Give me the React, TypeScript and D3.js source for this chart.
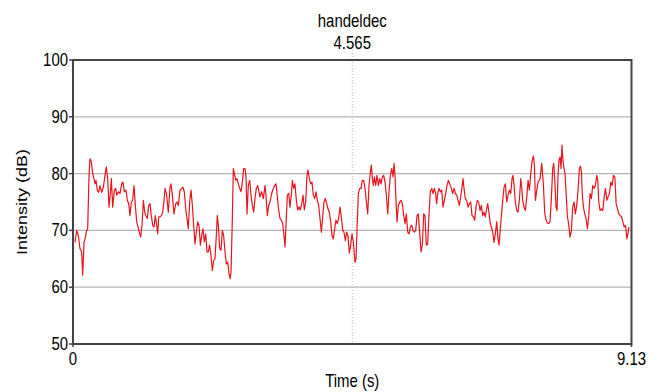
import React from "react";
import * as d3 from "d3";

const title = "handeldec";
const cursorTime = 4.565;
const xDomain = [0, 9.13];
const yDomain = [50, 100];
const yTicks = [50, 60, 70, 80, 90, 100];
const xTickLabels = ["0", "9.13"];
const xLabel = "Time (s)";
const yLabel = "Intensity (dB)";

const times = [
  0.033,0.060,0.087,0.114,0.142,0.158,0.180,0.196,0.223,0.240,0.262,0.278,0.300,0.322,0.343,0.360,0.376,0.398,0.420,0.441,0.469,0.496,0.523,0.545,0.567,0.589,0.610,0.627,0.649,0.676,0.698,0.714,0.741,0.768,0.796,0.817,0.839,0.866,0.888,0.910,0.932,0.953,0.975,0.997,1.019,1.041,1.063,1.084,1.106,1.128,1.150,1.172,1.193,1.215,1.237,1.259,1.280,1.303,1.324,1.346,1.368,1.385,1.401,1.422,1.444,1.466,1.488,
  1.504,1.531,1.558,1.586,1.602,1.624,1.651,1.679,1.700,1.722,1.749,1.777,1.798,1.820,1.842,1.864,1.885,1.907,1.929,1.951,1.973,1.994,2.016,2.038,2.060,2.082,2.104,2.125,2.147,2.169,2.191,2.212,2.234,2.256,2.278,2.300,2.321,2.343,2.359,2.376,2.398,2.420,2.441,2.463,2.485,2.507,2.529,2.550,2.567,2.583,2.605,2.621,2.638,2.660,2.681,2.703,2.725,2.747,2.768,2.790,2.812,2.828,2.845,2.866,2.888,2.910,2.932,2.954,2.975,2.997,3.019,3.041,
  3.057,3.085,3.111,3.139,3.155,3.177,3.199,3.221,3.248,3.275,3.297,3.319,3.340,3.362,3.384,3.406,3.428,3.449,3.466,3.482,3.504,3.526,3.548,3.569,3.586,3.608,3.629,3.651,3.673,3.695,3.716,3.739,3.760,3.782,3.804,3.825,3.842,3.864,3.886,3.907,3.929,3.951,3.973,3.994,4.016,4.038,4.060,4.082,4.103,4.125,4.147,4.169,4.190,4.213,4.234,4.255,4.278,4.299,4.321,4.343,4.365,4.386,4.409,4.430,4.452,4.474,4.495,4.517,4.539,4.561,4.582,
  4.610,4.627,4.643,4.665,4.687,4.709,4.730,4.752,4.774,4.796,4.818,4.839,4.861,4.877,4.894,4.910,4.927,4.948,4.970,4.992,5.014,5.035,5.057,5.079,5.101,5.122,5.145,5.166,5.188,5.210,5.232,5.248,5.264,5.281,5.297,5.319,5.341,5.362,5.384,5.406,5.428,5.449,5.472,5.493,5.515,5.537,5.558,5.580,5.602,5.624,5.645,5.667,5.689,5.711,5.733,5.754,5.776,5.798,5.820,5.841,5.864,5.885,5.907,5.929,5.945,5.962,5.983,6.005,6.027,6.049,6.070,6.093,6.114,6.136,6.158,
  6.184,6.207,6.229,6.250,6.272,6.294,6.315,6.338,6.359,6.376,6.392,6.413,6.436,6.458,6.479,6.501,6.523,6.545,6.567,6.588,6.610,6.632,6.654,6.675,6.698,6.719,6.741,6.763,6.779,6.796,6.817,6.839,6.861,6.883,6.904,6.927,6.948,6.965,6.981,7.003,7.025,7.046,7.068,7.090,7.112,7.134,7.156,7.177,7.193,7.210,7.231,7.254,7.275,7.297,7.320,7.336,7.352,7.373,7.395,7.418,7.439,7.461,7.483,7.504,7.526,7.543,7.559,7.582,7.603,
  7.636,7.662,7.689,7.711,7.733,7.754,7.777,7.798,7.820,7.842,7.858,7.875,7.896,7.913,7.929,7.945,7.962,7.978,7.994,8.011,8.027,8.043,8.060,8.081,8.104,8.125,8.147,8.169,8.191,8.212,8.235,8.256,8.278,8.295,8.311,8.327,8.344,8.366,8.387,8.409,8.432,8.453,8.474,8.497,8.519,8.540,8.562,8.579,8.595,8.617,8.638,8.661,8.683,8.704,8.726,8.748,8.769,8.792,8.814,8.835,8.858,8.879,8.901,8.923,8.945,8.966,8.989,9.010,9.032,9.055,9.071,9.087,
];

const intensity = [
  67.9,70.0,69.1,66.8,66.2,62.1,67.9,68.5,70.0,70.3,79.7,82.6,82.1,80.0,79.1,78.2,78.8,77.0,76.7,77.9,76.7,77.6,79.7,81.2,79.1,74.1,76.5,79.1,74.1,77.1,77.4,76.2,76.8,76.5,78.2,78.5,76.8,77.1,75.3,74.7,72.6,75.0,75.3,77.9,74.4,71.5,70.6,69.7,68.8,70.9,75.3,73.2,72.6,72.1,74.4,74.7,72.6,70.9,70.6,72.6,70.9,69.4,72.4,72.4,72.6,73.2,75.3,
  77.4,76.2,73.2,77.6,78.2,76.2,72.9,74.7,75.0,74.4,77.1,77.4,77.6,76.8,73.8,72.1,70.3,75.0,77.1,74.4,70.9,67.6,69.7,71.5,70.9,67.4,69.1,70.3,68.0,69.4,66.2,66.2,67.4,65.6,62.9,64.7,65.0,69.1,72.6,70.9,66.8,66.5,70.0,69.1,66.2,64.1,64.4,62.4,61.5,62.6,72.1,80.9,80.0,78.8,79.1,78.2,77.4,76.8,78.5,80.9,80.9,79.4,72.9,77.9,78.8,76.2,74.4,73.2,75.6,77.4,77.9,76.8,
  75.9,76.8,75.6,77.9,76.2,72.6,74.4,75.0,76.5,77.4,77.9,78.2,76.0,73.6,72.1,71.8,71.2,69.1,67.1,70.9,76.2,76.5,74.1,76.2,78.8,77.4,78.2,75.3,73.6,74.1,73.6,74.7,76.2,73.6,75.0,79.7,80.6,79.1,78.2,78.5,76.2,75.6,76.8,75.3,74.4,72.1,69.7,72.4,75.0,75.6,74.7,73.8,73.2,71.5,69.1,68.5,70.3,71.8,71.2,72.1,74.1,72.4,70.0,69.7,68.2,69.7,69.1,66.0,67.4,69.4,68.0,
  64.4,65.0,70.3,76.5,77.4,77.4,78.8,78.8,77.4,75.0,72.9,77.9,80.3,81.5,79.1,77.9,79.4,77.9,79.7,77.9,79.1,78.2,79.4,79.7,78.5,76.2,72.9,76.8,79.7,80.9,79.4,81.8,79.7,75.0,71.5,74.4,75.0,75.3,74.7,72.6,71.2,72.9,69.7,69.4,70.6,70.9,70.0,69.7,70.0,72.6,72.9,69.7,66.2,67.4,72.9,72.6,67.4,67.6,72.9,76.8,77.4,76.5,77.4,76.5,74.7,76.5,77.4,76.8,77.1,74.1,75.3,76.5,77.9,78.8,78.2,
  77.4,76.5,77.4,76.5,76.2,75.3,74.4,75.9,77.6,79.1,77.4,75.6,75.3,74.1,74.7,75.0,72.6,72.4,71.8,74.1,75.3,75.0,73.5,74.4,72.6,73.2,72.4,73.8,74.7,73.5,71.5,70.6,69.7,67.9,69.4,71.5,68.5,67.4,69.7,72.6,75.3,77.6,78.2,75.0,76.2,77.1,76.5,79.1,79.7,77.9,75.0,73.5,73.2,75.3,79.1,77.6,75.3,74.1,73.5,75.9,78.8,77.1,80.0,82.1,83.1,81.5,75.3,77.1,78.5,
  79.1,81.8,78.2,73.2,71.8,71.3,71.2,71.5,75.6,80.9,81.8,79.1,74.1,73.5,79.7,82.4,82.9,80.9,85.0,82.1,80.9,80.0,76.8,72.6,70.9,68.8,69.9,74.1,75.0,72.9,74.4,77.1,80.9,81.3,80.3,76.2,74.1,72.9,72.1,70.3,72.6,76.5,75.6,77.9,77.4,77.9,79.7,78.8,75.0,73.5,73.8,73.5,75.9,77.4,75.3,75.9,76.5,78.5,77.9,79.7,79.4,74.7,73.8,72.9,72.6,72.4,71.5,70.6,70.9,68.5,69.4,70.6,
];

const W = 671;
const H = 392;
const M = { left: 73, right: 631.5, top: 60, bottom: 344 };
const FONT = "'Liberation Sans', Arial, Helvetica, sans-serif";
const FS = 18;
const SX = 0.83;

export default function App() {
  const x = d3.scaleLinear().domain(xDomain).range([M.left, M.right]);
  const y = d3.scaleLinear().domain(yDomain).range([M.bottom, M.top]);
  const pts = times.map((t, i) => [t, intensity[i]] as [number, number]);
  const line = d3
    .line<[number, number]>()
    .x((d) => x(d[0]))
    .y((d) => y(d[1]));

  const cx = x(cursorTime);

  const txt = (
    key: string,
    tx: number,
    ty: number,
    s: string,
    anchor: string,
    rotate = false
  ) => (
    <text
      key={key}
      transform={
        rotate
          ? `translate(${tx},${ty}) rotate(-90) scale(1,${SX})`
          : `translate(${tx},${ty}) scale(${SX},1)`
      }
      textAnchor={anchor}
      dominantBaseline="central"
      fontFamily={FONT}
      fontSize={FS}
      fill="#000"
    >
      {s}
    </text>
  );

  return (
    <svg
      width={W}
      height={H}
      style={{ position: "absolute", left: 0, top: 0, background: "#fff" }}
    >
      <rect x={0} y={0} width={W} height={H} fill="#fff" />
      {yTicks
        .filter((v) => v !== yDomain[0] && v !== yDomain[1])
        .map((v) => (
          <line
            key={"g" + v}
            x1={M.left}
            x2={M.right}
            y1={y(v)}
            y2={y(v)}
            stroke="#b4b4b4"
            strokeWidth={1.2}
          />
        ))}
      <line
        x1={cx}
        x2={cx}
        y1={M.top - 10}
        y2={M.bottom}
        stroke="#bbb"
        strokeWidth={1}
        strokeDasharray="1,2"
      />
      <path
        d={line(pts) || ""}
        fill="none"
        stroke="#e8141c"
        strokeWidth={1.2}
        strokeLinejoin="round"
      />
      <rect
        x={M.left}
        y={M.top}
        width={M.right - M.left}
        height={M.bottom - M.top}
        fill="none"
        stroke="#444"
        strokeWidth={2}
      />
      {yTicks.map((v) => (
        <line
          key={"t" + v}
          x1={M.left - 4}
          x2={M.left}
          y1={y(v)}
          y2={y(v)}
          stroke="#444"
          strokeWidth={1.5}
        />
      ))}
      {yTicks.map((v) => txt("yl" + v, M.left - 5, y(v), String(v), "end"))}
      {xDomain.map((v) => (
        <line
          key={"xt" + v}
          x1={x(v)}
          x2={x(v)}
          y1={M.bottom}
          y2={M.bottom + 3}
          stroke="#444"
          strokeWidth={1.5}
        />
      ))}
      {xDomain.map((v, i) =>
        txt("xl" + i, x(v), M.bottom + 15, xTickLabels[i], "middle")
      )}
      {txt("title", cx, 21, title, "middle")}
      {txt("cursor", cx, 43, cursorTime.toFixed(3), "middle")}
      {txt("xlabel", (M.left + M.right) / 2, 381, xLabel, "middle")}
      {txt("ylabel", 22, (M.top + M.bottom) / 2, yLabel, "middle", true)}
    </svg>
  );
}
